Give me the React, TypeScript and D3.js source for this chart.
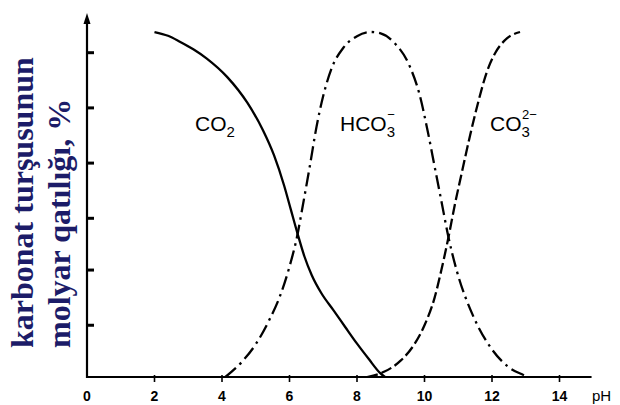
import React, { useEffect, useRef } from 'react';
import * as d3 from 'd3';

// pH ticks along the bottom
const phTicks = [0, 2, 4, 6, 8, 10, 12, 14];
// unlabeled marks on the vertical axis (% of the total)
const yTickValues = [15, 31, 46, 62, 78, 94];

// curves: [pH, %]
const co2: [number, number][] = [
  [2.0, 100], [2.4, 98.9], [2.75, 97.2], [3.15, 95], [3.55, 92.3], [4.15, 87],
  [4.75, 79.5], [5.21, 71.6], [5.54, 64.3], [5.84, 55.5], [6.04, 48.5], [6.24, 41.5],
  [6.44, 35], [6.66, 29.5], [6.95, 24.2], [7.3, 19.4], [7.65, 14.5], [7.99, 9.8],
  [8.35, 5.2], [8.68, 1.2], [8.83, 0],
];
const hco3: [number, number][] = [
  [4.1, 0], [4.6, 4.5], [5.0, 9.5], [5.4, 16.5], [5.72, 23.5], [6.0, 32],
  [6.22, 40.5], [6.4, 50], [6.6, 61], [6.8, 72.5], [7.0, 81.5], [7.25, 89.5],
  [7.6, 95.5], [8.0, 98.8], [8.4, 100], [8.7, 99.6], [9.07, 97.2], [9.57, 89.9],
  [9.85, 82], [10.1, 71], [10.3, 61], [10.5, 51], [10.71, 40.5], [10.95, 31],
  [11.45, 17.5], [12.0, 8], [12.5, 2.8], [12.93, 0.6], [13.07, 0],
];
const co3: [number, number][] = [
  [8.3, 0], [8.8, 1.5], [9.3, 4.8], [9.7, 9.5], [10.0, 15], [10.3, 23], [10.5, 31],
  [10.71, 40.5], [10.9, 50], [11.1, 59], [11.35, 70], [11.6, 80], [11.85, 88.5],
  [12.1, 94], [12.45, 98.2], [12.83, 100],
];

const W = 620;
const H = 405;

const App: React.FC = () => {
  const svgRef = useRef<SVGSVGElement>(null);

  useEffect(() => {
    if (!svgRef.current) return;
    const svg = d3.select(svgRef.current);
    svg.selectAll('*').remove();

    const x = d3.scaleLinear().domain([0, 14]).range([87, 559.5]);
    const y = d3.scaleLinear().domain([0, 100]).range([377, 32]);
    const x0 = x(0);
    const y0 = y(0);
    const sans = "'Liberation Sans', Arial, sans-serif";

    // axes
    svg.append('line')
      .attr('x1', x0).attr('y1', y0 + 1)
      .attr('x2', x0).attr('y2', 20)
      .attr('stroke', '#000').attr('stroke-width', 2.2);
    svg.append('path')
      .attr('d', `M${x0},13 L${x0 - 3.5},24 L${x0 + 3.5},24 Z`)
      .attr('fill', '#000');
    svg.append('line')
      .attr('x1', x0 - 1).attr('y1', y0)
      .attr('x2', x(14.95)).attr('y2', y0)
      .attr('stroke', '#000').attr('stroke-width', 2.2);

    svg.selectAll('.ytick')
      .data(yTickValues)
      .join('line')
      .attr('class', 'ytick')
      .attr('x1', x0 - 1).attr('x2', x0 + 7)
      .attr('y1', d => y(d)).attr('y2', d => y(d))
      .attr('stroke', '#000').attr('stroke-width', 3);

    svg.selectAll('.xtick')
      .data(phTicks.slice(1))
      .join('line')
      .attr('class', 'xtick')
      .attr('x1', d => x(d)).attr('x2', d => x(d))
      .attr('y1', y0 - 2).attr('y2', y0 + 5)
      .attr('stroke', '#000').attr('stroke-width', 1.6);

    svg.selectAll('.xlab')
      .data(phTicks)
      .join('text')
      .attr('class', 'xlab')
      .attr('x', d => x(d))
      .attr('y', 401)
      .attr('text-anchor', 'middle')
      .style('font-family', sans)
      .style('font-weight', 'bold')
      .style('font-size', '14px')
      .text(d => d);

    svg.append('text')
      .attr('x', 592).attr('y', 401)
      .style('font-family', sans)
      .style('font-size', '15px')
      .text('pH');

    // y axis title, two lines read bottom to top
    const title = ['karbonat turşusunun', 'molyar qatılığı, %'];
    title.forEach((t, i) => {
      svg.append('text')
        .attr('transform', `translate(${33 + i * 37},348) rotate(-90)`)
        .style('font-family', "'Liberation Serif', 'Times New Roman', serif")
        .style('font-weight', 'bold')
        .style('font-size', '32px')
        .style('fill', '#1c1c68')
        .text(t);
    });

    // curves
    const line = d3.line<[number, number]>()
      .x(d => x(d[0]))
      .y(d => y(d[1]))
      .curve(d3.curveMonotoneX);

    svg.append('path')
      .attr('d', line(co2))
      .attr('fill', 'none').attr('stroke', '#000').attr('stroke-width', 2.3);
    svg.append('path')
      .attr('d', line(hco3))
      .attr('fill', 'none').attr('stroke', '#000').attr('stroke-width', 2.3)
      .attr('stroke-dasharray', '14,5,2.5,5');
    svg.append('path')
      .attr('d', line(co3))
      .attr('fill', 'none').attr('stroke', '#000').attr('stroke-width', 2.3)
      .attr('stroke-dasharray', '11,4');

    // species labels: base, subscript, superscript
    const labels = [
      { base: 'CO', sub: '2', sup: '', px: 195 },
      { base: 'HCO', sub: '3', sup: '−', px: 340 },
      { base: 'CO', sub: '3', sup: '2−', px: 490 },
    ];
    labels.forEach(l => {
      const t = svg.append('text')
        .attr('x', l.px).attr('y', 131)
        .style('font-family', sans)
        .style('font-size', '21px')
        .text(l.base);
      const w = (t.node() as SVGTextElement).getComputedTextLength();
      svg.append('text')
        .attr('x', l.px + w).attr('y', 137)
        .style('font-family', sans)
        .style('font-size', '15px')
        .text(l.sub);
      if (l.sup) {
        svg.append('text')
          .attr('x', l.px + w + 0.5).attr('y', 119)
          .style('font-family', sans)
          .style('font-size', '13px')
          .text(l.sup);
      }
    });
  }, []);

  return (
    <svg
      ref={svgRef}
      width={W}
      height={H}
      style={{ position: 'absolute', left: 0, top: 0, background: '#fff' }}
    />
  );
};

export default App;
